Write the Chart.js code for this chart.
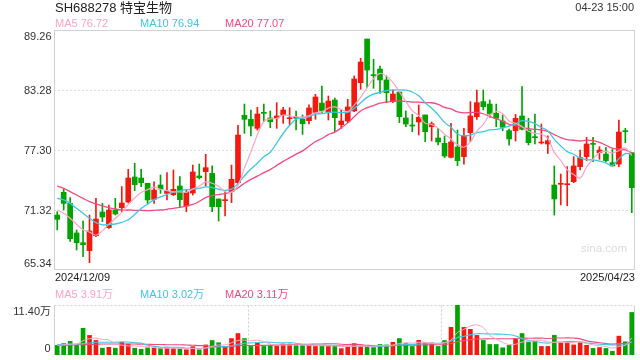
<!DOCTYPE html>
<html><head><meta charset="utf-8">
<script src="https://cdn.jsdelivr.net/npm/chart.js@4/dist/chart.umd.min.js"></script>
<style>
html,body{margin:0;padding:0;background:#fff;}
#wrap{position:relative;width:640px;height:360px;overflow:hidden;font-family:"Liberation Sans","Noto Sans CJK SC",sans-serif;}
.t{position:absolute;white-space:nowrap;line-height:1;font-size:11px;}
#c1{position:absolute;left:0;top:0;}
#c2{position:absolute;left:0;top:300px;}
</style></head><body>
<div id="wrap">
<canvas id="c1" width="640" height="280"></canvas>
<canvas id="c2" width="640" height="60"></canvas>
<div class="t" style="left:55px;top:1px;font-size:13px;color:#222">SH688278 特宝生物</div>
<div class="t" style="right:6px;top:2px;color:#333">04-23 15:00</div>
<div class="t" style="left:55px;top:18px;color:#ffa3c4">MA5 76.72</div>
<div class="t" style="left:140px;top:18px;color:#3fc6e2">MA10 76.94</div>
<div class="t" style="left:225px;top:18px;color:#f24a80">MA20 77.07</div>
<div class="t" style="left:581px;top:243px;color:#dadada;font-size:11.5px">sina.com</div>
<div class="t" id="d0" style="left:55px;top:272px;color:#222"></div>
<div class="t" id="d1" style="right:5px;top:272px;color:#222"></div>
<div class="t" style="left:55px;top:289px;color:#ffa3c4">MA5 3.91万</div>
<div class="t" style="left:140px;top:289px;color:#3fc6e2">MA10 3.02万</div>
<div class="t" style="left:225px;top:289px;color:#f24a80">MA20 3.11万</div>
</div>
<script>
const dates = ["2024/12/09","2024/12/10","2024/12/11","2024/12/12","2024/12/13","2024/12/16","2024/12/17","2024/12/18","2024/12/19","2024/12/20","2024/12/23","2024/12/24","2024/12/25","2024/12/26","2024/12/27","2024/12/30","2024/12/31",
"2025/01/02","2025/01/03","2025/01/06","2025/01/07","2025/01/08","2025/01/09","2025/01/10","2025/01/13","2025/01/14","2025/01/15","2025/01/16","2025/01/17","2025/01/20","2025/01/21","2025/01/22","2025/01/23","2025/01/24","2025/01/27",
"2025/02/05","2025/02/06","2025/02/07","2025/02/10","2025/02/11","2025/02/12","2025/02/13","2025/02/14","2025/02/17","2025/02/18","2025/02/19","2025/02/20","2025/02/21","2025/02/24","2025/02/25","2025/02/26","2025/02/27","2025/02/28",
"2025/03/03","2025/03/04","2025/03/05","2025/03/06","2025/03/07","2025/03/10","2025/03/11","2025/03/12","2025/03/13","2025/03/14","2025/03/17","2025/03/18","2025/03/19","2025/03/20","2025/03/21","2025/03/24","2025/03/25","2025/03/26","2025/03/27","2025/03/28","2025/03/31",
"2025/04/01","2025/04/02","2025/04/03","2025/04/07","2025/04/08","2025/04/09","2025/04/10","2025/04/11","2025/04/14","2025/04/15","2025/04/16","2025/04/17","2025/04/18","2025/04/21","2025/04/22","2025/04/23"];

const opens = [70.82,73.08,71.98,69.03,68.06,67.27,68.76,71.12,69.56,71.32,
71.55,72.12,74.61,74.51,73.98,72.38,73.81,72.98,72.85,73.71,
71.72,73.01,74.71,75.14,74.97,72.42,72.25,73.15,74.04,80.76,
80.36,79.46,81.02,80.49,80.49,80.79,80.42,80.52,80.39,80.22,
81.05,81.98,81.05,82.28,79.82,80.19,81.19,84.01,88.36,84.81,
85.37,84.28,82.12,83.08,80.49,79.79,80.09,80.79,79.62,78.50,
77.96,76.57,77.60,76.64,79.03,80.62,82.12,81.88,80.95,80.19,
79.23,79.23,80.69,79.29,78.63,78.00,77.90,73.81,73.88,73.84,
74.14,75.64,76.64,77.96,77.03,76.90,76.04,75.90,79.23,77.03];
const highs = [71.15,73.41,72.55,69.33,70.22,70.82,72.48,71.98,71.82,72.48,
73.65,75.37,75.97,75.37,74.00,74.14,74.81,75.04,75.31,74.64,
73.31,75.80,75.90,76.87,75.71,72.42,73.15,75.80,79.76,81.88,
81.29,81.55,81.88,81.19,82.02,81.55,81.52,81.19,80.79,81.79,
82.85,83.68,82.68,82.48,81.29,82.35,84.68,86.44,88.36,86.34,
85.67,84.68,83.28,83.08,81.19,80.85,81.79,80.79,80.09,79.46,
78.70,79.96,79.29,79.46,82.12,83.28,83.28,82.28,81.88,80.79,
79.39,80.85,83.61,80.46,80.89,79.89,78.70,75.71,74.91,75.64,
76.64,77.30,78.56,78.56,77.63,77.56,77.37,80.29,79.46,77.03];
const lows = [69.33,71.32,68.20,67.33,66.67,66.07,68.66,70.16,69.49,70.82,
71.15,72.02,73.25,73.65,71.92,71.98,72.98,72.32,72.75,71.65,
71.15,72.81,74.41,73.71,71.15,70.22,70.72,72.05,73.91,78.96,
78.70,79.29,80.12,79.53,79.46,79.96,79.79,79.29,78.86,79.89,
80.36,80.95,80.29,79.13,79.46,80.02,81.12,83.35,83.51,83.45,
82.95,82.02,82.02,80.02,79.62,79.13,78.79,78.13,78.20,77.80,
76.54,76.50,75.74,75.90,78.13,80.36,81.29,80.56,79.62,79.23,
77.77,78.20,79.29,77.80,77.90,77.90,76.97,70.82,71.82,71.75,
74.04,75.31,76.24,76.14,76.37,76.14,75.71,75.64,78.03,71.05];
const closes = [70.39,71.98,68.46,68.06,67.86,69.23,70.42,70.62,71.32,70.92,
72.02,74.51,73.84,74.04,72.32,73.31,73.41,73.18,73.38,72.35,
73.08,75.11,74.54,75.54,71.65,71.65,72.29,74.38,78.79,80.36,
79.69,80.89,80.95,80.12,80.69,81.29,80.49,80.46,79.92,81.49,
82.58,81.19,82.18,80.52,80.19,81.59,84.38,86.07,85.27,84.71,
84.28,83.01,82.88,80.62,79.89,79.69,80.56,79.13,79.92,78.10,
76.70,78.10,76.24,78.76,80.69,82.02,81.62,80.89,80.46,79.56,
78.40,80.46,79.36,78.03,78.53,78.10,78.23,72.42,73.98,73.91,
75.71,76.54,77.90,77.86,77.30,76.24,75.71,79.09,79.13,73.55];
// volume, unit: 万
const volumes = [2.19,2.6,3.1,2.3,6.1,4.47,3.32,1.55,1.75,1.55,
2.93,2.5,1.55,1.32,1.63,1.6,1.55,1.6,1.45,1.4,
1.2,1.9,1.2,2.3,3.3,2.8,1.8,3.75,4.9,3.75,
1.95,2.7,1.95,2.15,2.2,2.5,2.5,2.15,2.15,2.15,
1.95,2.17,1.97,2.17,1.45,1.8,2.6,2.0,2.0,1.7,
2.4,2.3,2.9,3.75,2.6,1.95,3.35,2.8,2.75,1.95,
3.3,6.3,11.38,6.3,5.85,4.47,3.32,2.4,2.4,1.65,
2.17,3.6,4.9,2.95,3.12,1.95,1.95,4.47,2.85,2.85,
2.3,2.8,2.2,1.5,1.7,1.5,0.85,4.3,3.0,9.7];

// moving-average values before a full window exists
const ma5Head = [71.32,71.00,70.50,69.90];
const ma10Head = [72.48,72.32,71.98,71.49,70.99,70.49,70.06,69.83,69.89];
const ma20Head = [73.71,73.48,73.15,72.81,72.48,72.15,71.92,71.72,71.55,71.42,71.32,71.32,71.29,71.29,71.25,71.29,71.32,71.39,71.49];
const vma5Head = [2.2,2.3,2.5,2.5];
const vma10Head = [2.4,2.4,2.45,2.5,2.6,2.75,2.9,2.9,2.9];
const vma20Head = [2.2,2.2,2.25,2.3,2.35,2.4,2.45,2.5,2.5,2.5,2.5,2.5,2.5,2.45,2.45,2.4,2.4,2.35,2.35];

const priceTicks = [65.34,71.32,77.30,83.28,89.26];
const volTicks = [0,11.40];

function movingAvg(arr,n,head){
  return arr.map((_,i)=> i<n-1 ? head[i] : arr.slice(i-n+1,i+1).reduce((a,b)=>a+b,0)/n);
}
const ma5 = movingAvg(closes,5,ma5Head), ma10 = movingAvg(closes,10,ma10Head), ma20 = movingAvg(closes,20,ma20Head);
const vma5 = movingAvg(volumes,5,vma5Head), vma10 = movingAvg(volumes,10,vma10Head), vma20 = movingAvg(volumes,20,vma20Head);

document.getElementById('d0').textContent = dates[0];
document.getElementById('d1').textContent = dates[dates.length-1];

const UP='#f21a0e', DOWN='#00a300';
const C5='#ffa3c4', C10='#3fc6e2', C20='#f24a80';
const colors = closes.map((c,i)=> c>=opens[i]?UP:DOWN);
const FONT = "11px 'Liberation Sans','Noto Sans CJK SC',sans-serif";

function lineDs(data,color,w){
  return {type:'line',data,borderColor:color,borderWidth:w,pointRadius:0,tension:0.35,fill:false,order:0};
}

const mainFrame = {
  id:'mainFrame',
  beforeDatasetsDraw(chart){
    const {ctx,chartArea:a,scales:{y}} = chart;
    ctx.save();
    ctx.strokeStyle='#d2d2d2'; ctx.lineWidth=1; ctx.setLineDash([]);
    ctx.strokeRect(Math.round(a.left)+0.5,Math.round(a.top)+0.5,Math.round(a.right-a.left)-1,Math.round(a.bottom-a.top)-1);
    ctx.font=FONT; ctx.fillStyle='#333'; ctx.textAlign='right'; ctx.textBaseline='alphabetic';
    priceTicks.forEach((v,i)=>{
      const py=y.getPixelForValue(v);
      const off = i===priceTicks.length-1 ? 10 : (i===0 ? -3 : 4);
      ctx.fillText(v.toFixed(2),51.5,py+off);
    });
    ctx.restore();
  }
};

new Chart(document.getElementById('c1'),{
  type:'bar',
  data:{labels:dates,datasets:[
    lineDs(ma5,C5,1.2), lineDs(ma10,C10,1.3), lineDs(ma20,C20,1.3),
    {data:opens.map((o,i)=>[o,closes[i]]),backgroundColor:colors,barThickness:5,minBarLength:1,grouped:false,order:1},
    {data:lows.map((l,i)=>[l,highs[i]]),backgroundColor:colors,barThickness:1,grouped:false,order:2}
  ]},
  options:{
    responsive:false,animation:false,events:[],
    layout:{padding:{top:30,right:5,bottom:10,left:0}},
    plugins:{legend:{display:false},tooltip:{enabled:false}},
    scales:{
      x:{display:false,offset:true},
      y:{min:65.34,max:89.26,
        afterBuildTicks:s=>{s.ticks=priceTicks.map(v=>({value:v}));},
        afterFit:s=>{s.width=54;},
        ticks:{display:false},
        border:{display:false,dash:[2,2]},
        grid:{drawTicks:false,lineWidth:1,
          color:c=>(c.tick&&(c.tick.value===priceTicks[0]||c.tick.value===priceTicks[priceTicks.length-1]))?'rgba(0,0,0,0)':'#dedede'}
      }
    }
  },
  plugins:[mainFrame]
});

const volFrame = {
  id:'volFrame',
  beforeDatasetsDraw(chart){
    const {ctx,chartArea:a,scales:{x,y}} = chart;
    const L=Math.round(a.left)+0.5,R=Math.round(a.right)-0.5,T=Math.round(a.top)+0.5,B=Math.round(a.bottom)-0.5;
    ctx.save();
    ctx.lineWidth=1;
    ctx.strokeStyle='#d2d2d2'; ctx.setLineDash([]);
    ctx.beginPath(); ctx.moveTo(L,T); ctx.lineTo(L,B); ctx.moveTo(R,T); ctx.lineTo(R,B); ctx.stroke();
    ctx.setLineDash([2,2]); ctx.strokeStyle='#cfcfcf';
    ctx.beginPath(); ctx.moveTo(L,T); ctx.lineTo(R,T); ctx.moveTo(L,B); ctx.lineTo(R,B); ctx.stroke();
    [30,60].forEach(i=>{
      const px=Math.round((x.getPixelForValue(i-1)+x.getPixelForValue(i))/2)+0.5;
      ctx.beginPath(); ctx.moveTo(px,T); ctx.lineTo(px,B); ctx.stroke();
    });
    ctx.setLineDash([]);
    ctx.font=FONT; ctx.fillStyle='#333'; ctx.textAlign='right'; ctx.textBaseline='alphabetic';
    ctx.fillText(volTicks[1].toFixed(2)+'万',51,y.getPixelForValue(volTicks[1])+10);
    ctx.fillText(String(volTicks[0]),50.5,y.getPixelForValue(volTicks[0])-3);
    ctx.restore();
  }
};

new Chart(document.getElementById('c2'),{
  type:'bar',
  data:{labels:dates,datasets:[
    lineDs(vma5,C5,1), lineDs(vma10,C10,1.1), lineDs(vma20,C20,1.1),
    {data:volumes,backgroundColor:colors,barThickness:4,order:1}
  ]},
  options:{
    responsive:false,animation:false,events:[],
    layout:{padding:{top:5,right:5,bottom:5,left:0}},
    plugins:{legend:{display:false},tooltip:{enabled:false}},
    scales:{
      x:{display:false,offset:true},
      y:{min:volTicks[0],max:volTicks[1],
        afterBuildTicks:s=>{s.ticks=volTicks.map(v=>({value:v}));},
        afterFit:s=>{s.width=54;},
        ticks:{display:false},border:{display:false},grid:{display:false}}
    }
  },
  plugins:[volFrame]
});
</script>
</body></html>
